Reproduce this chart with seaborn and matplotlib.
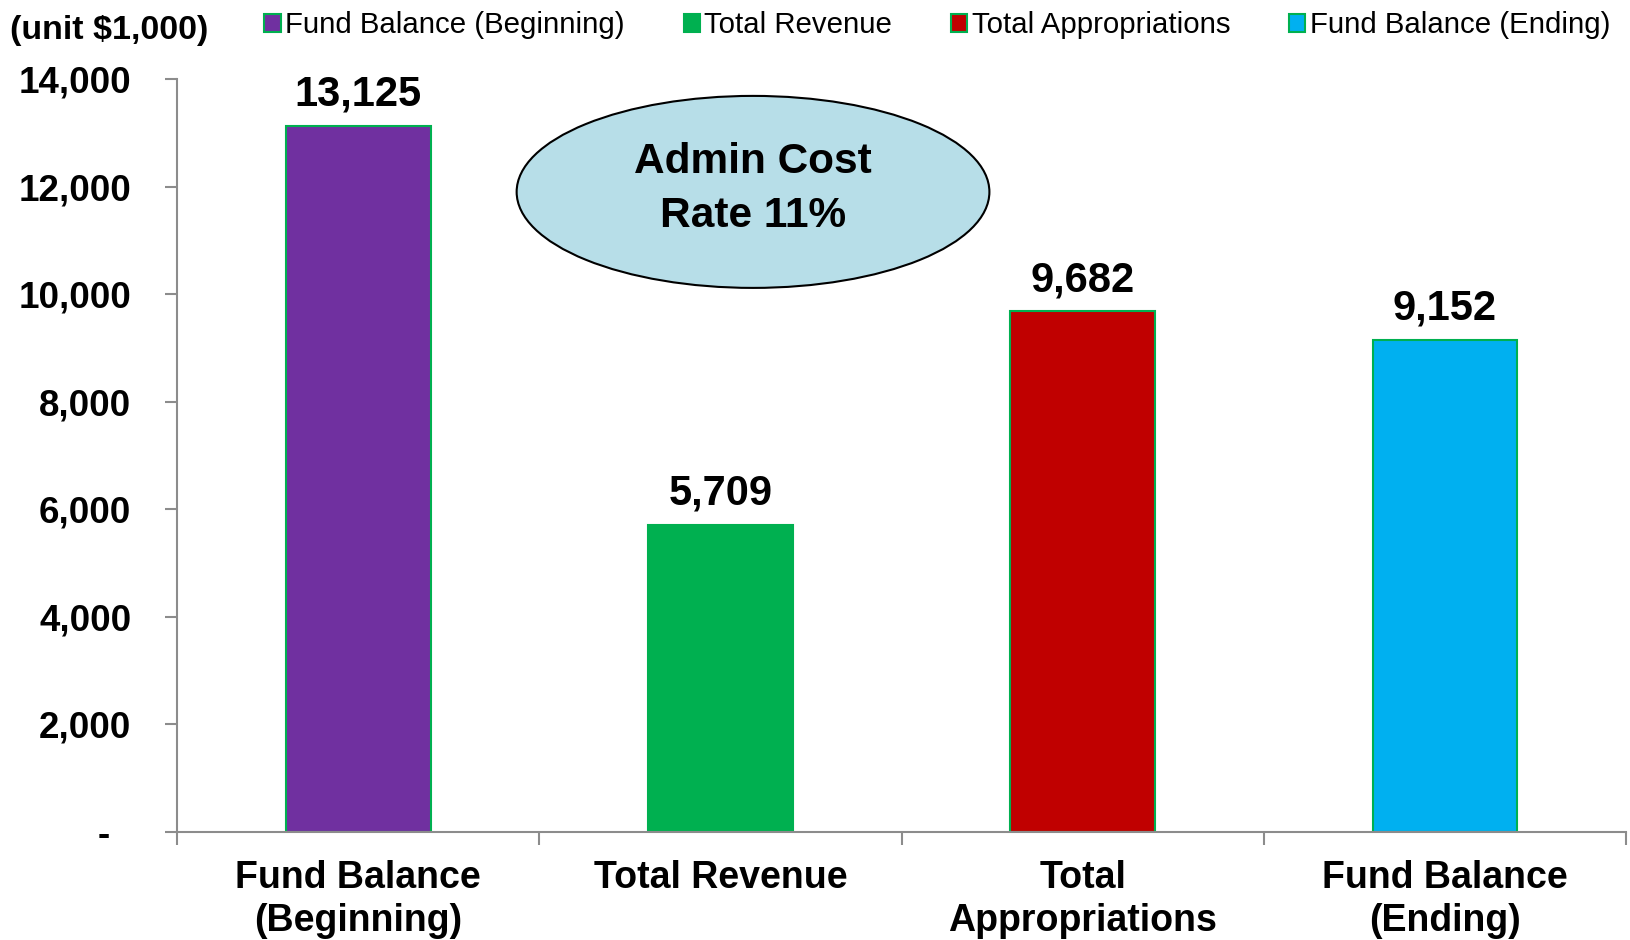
import matplotlib
matplotlib.use("Agg")
import matplotlib.pyplot as plt
import seaborn as sns
import pandas as pd
from matplotlib.patches import Ellipse
from matplotlib.ticker import FixedLocator, FuncFormatter

categories = ["Fund Balance\n(Beginning)", "Total Revenue", "Total\nAppropriations", "Fund Balance\n(Ending)"]
legend_labels = ["Fund Balance (Beginning)", "Total Revenue", "Total Appropriations", "Fund Balance (Ending)"]
values = [13125, 5709, 9682, 9152]
colors = ["#7030A0", "#00B050", "#C00000", "#00B0F0"]
y_ticks = [0, 2000, 4000, 6000, 8000, 10000, 12000, 14000]
note_text = "Admin Cost\nRate 11%"
unit_text = "(unit $1,000)"

sns.set_theme(style="white")
plt.rcParams["font.family"] = ["Liberation Sans", "DejaVu Sans"]
plt.rcParams["text.color"] = "black"
plt.rcParams["xtick.labelcolor"] = "black"
plt.rcParams["ytick.labelcolor"] = "black"

df = pd.DataFrame({"cat": categories, "val": values})

fig = plt.figure(figsize=(16.3, 9.4), dpi=100)
ax = fig.add_axes([0.1086, 0.115, 0.889, 0.801])

sns.barplot(data=df, x="cat", y="val", hue="cat", palette=colors, width=0.4, saturation=1,
            edgecolor="#00B050", linewidth=1.5, legend=False, ax=ax, dodge=False)

ax.set_ylim(0, 14000)
ax.set_xlim(-0.5, 3.5)
ax.set_xlabel("")
ax.set_ylabel("")

for sp in ["top", "right"]:
    ax.spines[sp].set_visible(False)
for sp in ["left", "bottom"]:
    ax.spines[sp].set_color("#8C8C8C")
    ax.spines[sp].set_linewidth(1.5)

ax.yaxis.set_major_locator(FixedLocator(y_ticks))
ax.yaxis.set_major_formatter(FuncFormatter(lambda v, p: "-  " if v == 0 else f"{int(v):,}"))
ax.tick_params(axis="y", which="major", left=True, length=9, width=1.5, color="#8C8C8C",
               labelsize=26.5, pad=24, labelcolor="black")
for lbl in ax.get_yticklabels():
    lbl.set_fontweight("bold")

ax.set_xticks(range(len(categories)))
ax.set_xticklabels(categories, fontsize=27, fontweight="bold", linespacing=1.25, color="black")
ax.tick_params(axis="x", which="major", length=0, pad=20)
ax.set_xticks([-0.5, 0.5, 1.5, 2.5, 3.5], minor=True)
ax.tick_params(axis="x", which="minor", bottom=True, length=9, width=1.5, color="#8C8C8C")

for cont in ax.containers:
    ax.bar_label(cont, labels=[f"{v:,.0f}" for v in cont.datavalues], padding=8,
                 fontsize=30, fontweight="bold", color="black")

ell = Ellipse((1.09, 11900), width=1.305, height=3570, facecolor="#B7DEE8",
              edgecolor="black", linewidth=1.5, zorder=5)
ax.add_patch(ell)
ax.text(1.09, 11950, note_text, ha="center", va="center", fontsize=30.5, color="black",
        fontweight="bold", linespacing=1.45, zorder=6)

handles = [cont.patches[0] for cont in ax.containers]
leg = fig.legend(handles, legend_labels, loc="upper left", bbox_to_anchor=(0.146, 1.016),
                 ncol=4, frameon=False, fontsize=21.2, handlelength=0.55, handleheight=0.6,
                 handletextpad=0.15, columnspacing=2.0, labelcolor="black")

fig.text(0.006, 0.968, unit_text, ha="left", va="center", fontsize=24.5, fontweight="bold",
         color="black")

fig.savefig("out.png", dpi=100)
